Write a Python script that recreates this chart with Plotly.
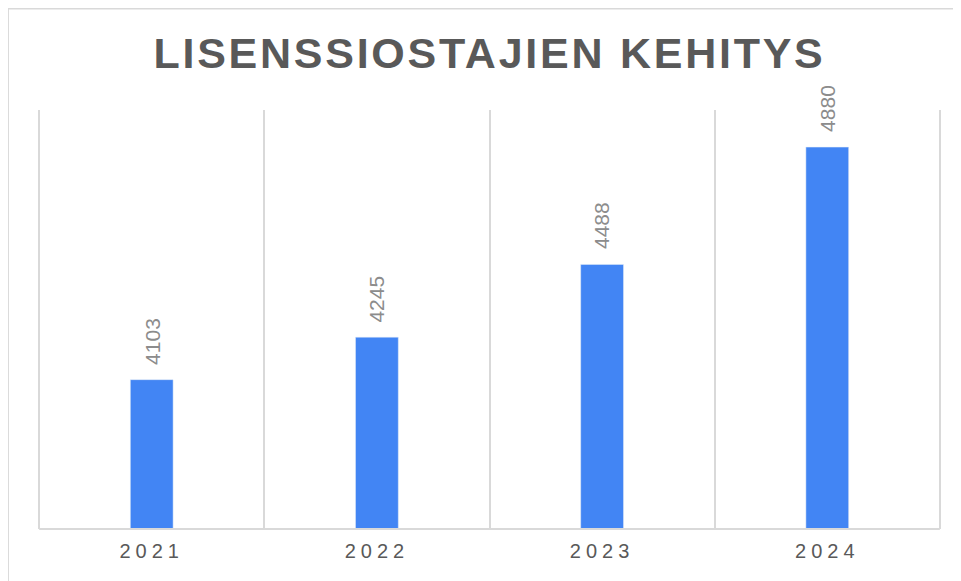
import plotly.graph_objects as go

years = ["2021", "2022", "2023", "2024"]
buyers = [4103, 4245, 4488, 4880]
title_text = "LISENSSIOSTAJIEN KEHITYS"

bar_color = "#4285F4"
grid_color = "#D9D9D9"

def spaced(s, px):
    return '<span style="letter-spacing:{}px">{}</span>'.format(px, s)

pos = list(range(len(years)))
edges = [p - 0.5 for p in pos] + [pos[-1] + 0.5]

fig = go.Figure()
fig.add_trace(go.Bar(x=pos, y=buyers, marker_color=bar_color, width=0.19, hoverinfo="skip"))

for p, val in zip(pos, buyers):
    fig.add_annotation(x=p, y=val, text=str(val), textangle=-90, showarrow=False,
                       yanchor="bottom", yshift=13,
                       font=dict(family="Liberation Sans, Arial", size=21, color="#8C8C8C"))

# chart box border
fig.add_shape(type="rect", xref="paper", yref="paper", x0=-0.0333, x1=1.2, y0=-0.3, y1=1.2422,
              fillcolor="white", line=dict(color=grid_color, width=2), layer="below")

fig.update_layout(
    width=961, height=581,
    margin=dict(l=30, r=28, t=102, b=60, autoexpand=False),
    paper_bgcolor="#EAF7FC",
    plot_bgcolor="rgba(0,0,0,0)",
    showlegend=False,
    title=dict(text="<b>" + spaced(title_text, 2.75) + "</b>", x=0.5, xref="paper",
               y=0.923, yref="container", yanchor="middle",
               font=dict(family="Liberation Sans, Arial", size=43, color="#595959")),
    xaxis=dict(range=[edges[0] - 0.005, edges[-1] + 0.005], showgrid=False, zeroline=False,
               showline=False, ticks="",
               tickmode="array", tickvals=pos, ticktext=[spaced(y, 5) for y in years], tickangle=0,
               ticklabelstandoff=8,
               tickfont=dict(family="Liberation Sans, Arial", size=20, color="#595959"),
               minor=dict(tickmode="array", tickvals=edges, showgrid=True,
                          gridcolor=grid_color, gridwidth=1.5, ticks="")),
    yaxis=dict(range=[3604, 5004], showgrid=False, showticklabels=False, zeroline=False, showline=False),
)
# baseline between the outer category edges
fig.add_shape(type="line", xref="x", yref="paper", x0=edges[0], x1=edges[-1], y0=0, y1=0,
              line=dict(color=grid_color, width=2))

fig.write_html("out.html")
